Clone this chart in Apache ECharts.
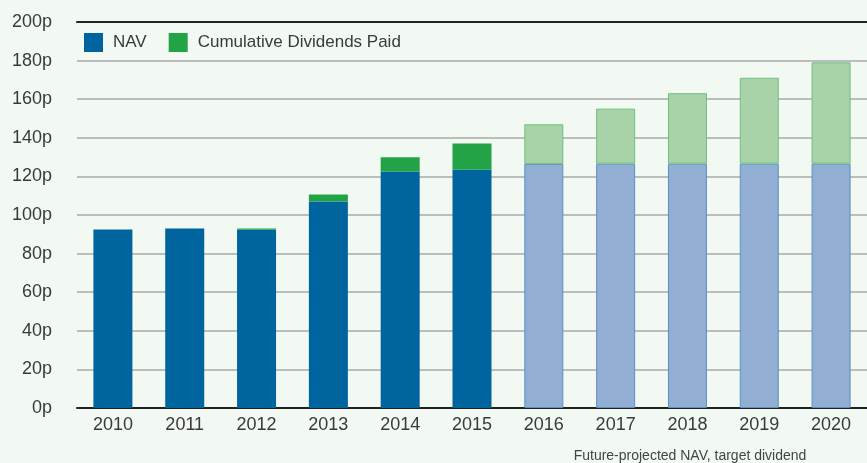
<!DOCTYPE html>
<html>
<head>
<meta charset="utf-8">
<script src="https://cdn.jsdelivr.net/npm/echarts@6/dist/echarts.min.js"></script>
<style>
html,body{margin:0;padding:0;background:#f2f8f2;}
#chart{width:867px;height:463px;}
</style>
</head>
<body>
<div id="chart"></div>
<script>
const categories = ['2010','2011','2012','2013','2014','2015','2016','2017','2018','2019','2020'];
const navValues = [92.5, 93, 92.3, 107, 122.6, 123.6, 126.5, 126.6, 126.6, 126.6, 126.6];
const dividendValues = [0, 0, 0.7, 3.6, 7.3, 13.5, 20.5, 28.5, 36.5, 44.5, 52.5];
const projectedFrom = '2016';
const yTicks = [0, 20, 40, 60, 80, 100, 120, 140, 160, 180, 200];
const caption = 'Future-projected NAV, target dividend';

const projIdx = categories.indexOf(projectedFrom);
const navData = navValues.map((v, i) => i >= projIdx
  ? { value: v, itemStyle: { color: '#93aed3', borderColor: '#5a8fc6', borderWidth: 1 } }
  : v);
const divData = dividendValues.map((v, i) => i >= projIdx
  ? { value: v, itemStyle: { color: '#a8d3a9', borderColor: '#6cc07f', borderWidth: 1 } }
  : v);

const chart = echarts.init(document.getElementById('chart'), null, { renderer: 'canvas' });
const font = '"Liberation Sans", Arial, Helvetica, sans-serif';
chart.setOption({
  backgroundColor: '#f2f8f2',
  animation: false,
  textStyle: { fontFamily: font },
  grid: { left: 77, right: -8, top: 22, bottom: 55 },
  legend: {
    left: 84, top: 33, padding: 0,
    itemWidth: 19, itemHeight: 19, itemGap: 22,
    icon: 'rect',
    data: ['NAV', 'Cumulative Dividends Paid'],
    textStyle: { fontSize: 17, color: '#3a3a3a', fontFamily: font, padding: [0, 0, 0, 5] }
  },
  title: {
    text: caption,
    left: 690, top: 449, padding: 0,
    textAlign: 'center',
    textStyle: { fontSize: 14, fontWeight: 'normal', color: '#444', fontFamily: font }
  },
  xAxis: [{
    type: 'category',
    data: categories,
    axisLine: { show: true, lineStyle: { color: '#222', width: 2 } },
    axisTick: { show: false },
    axisLabel: { fontSize: 18, color: '#3a3a3a', margin: 8, fontFamily: font }
  }, {
    type: 'category',
    position: 'top',
    data: categories,
    axisLine: { show: true, lineStyle: { color: '#222', width: 2 } },
    axisTick: { show: false },
    axisLabel: { show: false }
  }],
  yAxis: {
    type: 'value',
    min: yTicks[0], max: yTicks[yTicks.length - 1], interval: yTicks[1] - yTicks[0],
    axisLine: { show: false },
    axisTick: { show: false },
    axisLabel: { fontSize: 18, color: '#3a3a3a', margin: 25, formatter: v => v + 'p', fontFamily: font },
    splitLine: { lineStyle: { color: '#aaaaaa', width: 1.5 } }
  },
  series: [{
    name: 'NAV',
    type: 'bar',
    stack: 'total',
    barWidth: 39,
    itemStyle: { color: '#00649f' },
    data: navData
  }, {
    name: 'Cumulative Dividends Paid',
    type: 'bar',
    stack: 'total',
    barWidth: 39,
    itemStyle: { color: '#21a346' },
    data: divData
  }]
});
</script>
</body>
</html>
